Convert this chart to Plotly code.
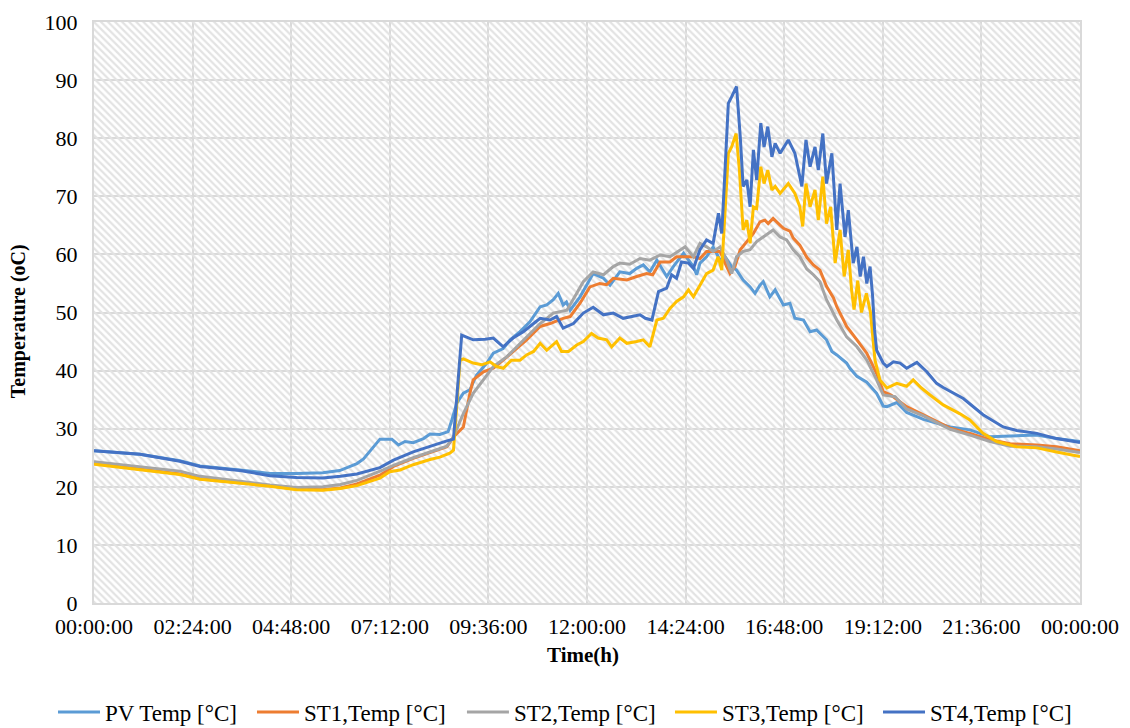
import plotly.graph_objects as go

# ---------------- data (hours since midnight, °C) ----------------
pv_t = [0, 1.12, 2.09, 2.58, 3.55, 4.28, 4.93, 5.57, 5.98, 6.4, 6.56, 6.8, 6.96, 7.25, 7.41, 7.57, 7.77,
        8.02, 8.18, 8.42, 8.62, 8.71, 8.83, 8.99, 9.15, 9.31, 9.56, 9.72, 9.96, 10.13, 10.37, 10.61,
        10.86, 11.02, 11.18, 11.3, 11.42, 11.5, 11.59, 11.83, 12.07, 12.15, 12.4, 12.56, 12.8, 13.04,
        13.21, 13.37, 13.53, 13.7, 13.94, 14.1, 14.35, 14.59, 14.67, 14.75, 14.91, 15.07, 15.24, 15.36,
        15.52, 15.64, 15.8, 15.97, 16.09, 16.21, 16.29, 16.45, 16.58, 16.78, 16.94, 17.06, 17.27, 17.43,
        17.59, 17.83, 17.96, 18.08, 18.32, 18.4, 18.57, 18.81, 19.05, 19.21, 19.3, 19.54, 19.78, 20.03,
        20.19, 20.84, 21.32, 21.81, 22.3, 22.95, 23.43, 24]
pv_v = [26.2, 25.6, 24.5, 23.6, 22.9, 22.3, 22.3, 22.4, 22.8, 24.0, 24.8, 26.9, 28.2, 28.2, 27.2, 27.8, 27.6,
        28.3, 29.1, 29.0, 29.5, 31.5, 34.4, 36.1, 36.7, 39.2, 41.3, 43.0, 43.8, 45.3, 46.7, 48.4,
        51.0, 51.3, 52.2, 53.3, 51.3, 51.8, 50.4, 52.7, 55.9, 56.7, 55.9, 54.7, 57.0, 56.7,
        57.6, 58.2, 57.0, 59.0, 56.2, 57.9, 60.2, 57.9, 56.5, 58.5, 59.6, 61.3, 59.0, 59.6,
        57.9, 57.3, 55.6, 54.4, 53.3, 54.7, 55.3, 52.7, 53.9, 51.3, 51.6, 49.0, 48.7, 46.7,
        47.0, 45.3, 43.3, 42.7, 41.3, 40.4, 39.0, 38.0, 36.1, 33.9, 33.8, 34.5, 32.8, 32.1,
        31.6, 30.3, 29.8, 28.6, 28.7, 28.9, 28.3, 27.8]

st1_t = [0, 1.12, 2.09, 2.58, 3.55, 4.28, 4.93, 5.57, 6.0, 6.4, 6.96, 7.29, 7.77, 8.18, 8.59, 8.75, 8.99,
         9.15, 9.23, 9.48, 9.72, 9.96, 10.29, 10.53, 10.86, 11.1, 11.42, 11.59, 11.83, 12.07, 12.31,
         12.48, 12.64, 12.97, 13.21, 13.45, 13.6, 13.78, 14.02, 14.18, 14.59, 14.75, 14.91, 15.07,
         15.24, 15.4, 15.48, 15.6, 15.73, 15.89, 16.05, 16.21, 16.33, 16.41, 16.53, 16.66, 16.78,
         16.94, 17.02, 17.18, 17.35, 17.51, 17.67, 17.83, 18.0, 18.08, 18.32, 18.57, 18.81, 19.05,
         19.21, 19.4, 19.78, 20.19, 20.84, 21.32, 21.81, 22.3, 22.95, 23.43, 24]
st1_v = [24.0, 23.1, 22.2, 21.4, 20.7, 20.2, 19.6, 19.5, 19.8, 20.5, 22.0, 23.5, 24.9, 25.9, 26.9, 28.6, 30.3,
         36.1, 38.4, 39.8, 40.4, 41.8, 43.8, 45.3, 47.6, 48.1, 49.0, 49.3, 51.6, 54.4, 55.0,
         54.8, 55.9, 55.6, 56.2, 56.7, 56.5, 58.7, 58.7, 59.6, 59.6, 59.3, 60.5, 60.5,
         60.5, 57.9, 56.7, 57.9, 60.8, 62.2, 63.6, 65.6, 65.9, 65.3, 66.2, 65.3, 64.5,
         64.0, 62.8, 61.6, 59.5, 58.2, 57.3, 54.5, 52.5, 51.0, 47.6, 45.3, 43.0, 39.5,
         36.4, 35.8, 33.8, 32.4, 30.1, 29.2, 28.1, 27.4, 27.2, 26.9, 26.2]

st2_t = [0, 1.12, 2.09, 2.58, 3.55, 4.28, 4.93, 5.57, 6.0, 6.4, 7.04, 7.29, 7.77, 8.18, 8.59, 8.75, 8.99,
         9.23, 9.48, 9.72, 10.05, 10.45, 10.86, 11.18, 11.51, 11.75, 11.91, 12.15, 12.4, 12.64, 12.8,
         13.04, 13.29, 13.53, 13.78, 14.02, 14.26, 14.39, 14.59, 14.75, 14.91, 15.07, 15.24, 15.4,
         15.52, 15.64, 15.8, 15.97, 16.13, 16.29, 16.41, 16.53, 16.7, 16.86, 17.02, 17.18, 17.35,
         17.51, 17.67, 17.83, 18.08, 18.32, 18.57, 18.81, 19.05, 19.21, 19.5, 19.78, 20.19, 20.84,
         21.32, 21.81, 22.3, 22.95, 23.43, 24]
st2_v = [24.3, 23.5, 22.7, 21.8, 20.9, 20.3, 19.9, 20.0, 20.4, 21.1, 22.9, 23.7, 25.0, 26.0, 27.0, 28.6, 32.6,
         36.1, 38.4, 40.7, 42.4, 45.3, 48.1, 49.9, 50.4, 53.3, 55.3, 57.0, 56.5, 57.9, 58.5,
         58.3, 59.3, 59.0, 59.9, 59.6, 60.8, 61.3, 59.6, 61.9, 61.3, 60.5, 61.3, 59.0,
         56.7, 59.6, 60.5, 60.8, 62.2, 63.0, 63.6, 64.2, 63.0, 62.5, 60.8, 59.6, 57.5,
         56.5, 55.3, 52.2, 48.7, 45.8, 44.1, 41.8, 38.4, 35.8, 35.5, 33.4, 32.2, 29.9,
         28.9, 27.8, 27.0, 26.9, 26.5, 25.9]

st3_t = [0, 1.12, 2.09, 2.58, 3.55, 4.28, 4.93, 5.57, 6.0, 6.4, 6.96, 7.2, 7.45, 7.77, 8.18, 8.42, 8.66,
         8.75, 8.91, 8.99, 9.23, 9.44, 9.64, 9.8, 9.96, 10.16, 10.37, 10.53, 10.7, 10.86, 11.02, 11.26,
         11.38, 11.55, 11.75, 11.91, 12.11, 12.27, 12.48, 12.6, 12.8, 12.97, 13.21, 13.37, 13.53,
         13.7, 13.86, 14.02, 14.18, 14.35, 14.47, 14.59, 14.75, 14.91, 15.07, 15.19, 15.28, 15.36,
         15.44, 15.52, 15.63, 15.71, 15.8, 15.89, 15.97, 16.05, 16.13, 16.23, 16.31, 16.4, 16.5,
         16.58, 16.7, 16.9, 17.06, 17.18, 17.25, 17.33, 17.43, 17.55, 17.63, 17.74, 17.83, 17.93,
         18.04, 18.16, 18.26, 18.36, 18.44, 18.5, 18.59, 18.68, 18.8, 18.9, 19.01, 19.13, 19.3,
         19.54, 19.78, 19.94, 20.14, 20.35, 20.67, 21.07, 21.32, 21.64, 21.97, 22.46, 22.95, 23.43, 24]
st3_v = [23.9, 23.0, 22.1, 21.3, 20.6, 20.1, 19.5, 19.4, 19.7, 20.2, 21.5, 22.6, 22.9, 23.8, 24.7, 25.1, 25.8,
         26.3, 41.8, 42.0, 41.3, 41.0, 41.5, 40.7, 40.4, 41.8, 41.8, 42.7, 43.3, 44.7, 43.5, 45.0,
         43.3, 43.3, 44.4, 45.0, 46.4, 45.6, 45.3, 44.1, 45.6, 44.7, 45.0, 45.3, 44.1,
         48.7, 49.0, 50.7, 51.9, 52.7, 53.9, 52.7, 54.7, 56.7, 57.3, 59.6, 57.3, 66.5,
         77.4, 78.5, 80.8, 74.5, 64.2, 65.9, 61.9, 68.2, 67.9, 75.1, 72.2, 74.5, 71.1,
         71.7, 70.5, 72.2, 70.5, 68.2, 64.8, 72.2, 68.2, 71.1, 65.9, 73.4, 65.3, 68.2,
         58.5, 64.2, 56.2, 60.8, 53.9, 50.5, 55.5, 50.0, 53.3, 50.0, 41.8, 38.4, 37.0,
         37.8, 37.3, 38.4, 37.0, 35.8, 34.1, 32.6, 31.5, 29.2, 27.8, 26.9, 26.7, 26.0, 25.2]

st4_t = [0, 1.12, 2.09, 2.58, 3.55, 4.28, 4.93, 5.57, 6.0, 6.4, 6.96, 7.29, 7.77, 8.18, 8.59, 8.75, 8.95,
         9.23, 9.52, 9.72, 9.96, 10.2, 10.45, 10.7, 10.86, 11.1, 11.26, 11.42, 11.67, 11.91, 12.15,
         12.4, 12.64, 12.88, 13.13, 13.29, 13.42, 13.58, 13.74, 13.94, 14.06, 14.18, 14.3, 14.47,
         14.59, 14.75, 14.91, 15.07, 15.2, 15.28, 15.36, 15.44, 15.52, 15.64, 15.73, 15.8, 15.89,
         15.97, 16.05, 16.13, 16.23, 16.31, 16.4, 16.5, 16.58, 16.7, 16.9, 17.06, 17.23, 17.33,
         17.43, 17.55, 17.63, 17.74, 17.83, 17.96, 18.08, 18.16, 18.28, 18.36, 18.48, 18.57, 18.65,
         18.73, 18.81, 18.89, 18.95, 19.0, 19.05, 19.21, 19.3, 19.46, 19.62, 19.78, 20.03, 20.27,
         20.51, 20.67, 21.16, 21.64, 22.13, 22.46, 22.95, 23.43, 24]
st4_v = [26.2, 25.6, 24.4, 23.5, 22.8, 21.9, 21.6, 21.5, 21.8, 22.2, 23.3, 24.6, 26.0, 27.0, 27.9, 28.2, 46.1,
         45.3, 45.4, 45.6, 44.1, 45.6, 46.7, 48.1, 49.0, 48.7, 49.3, 47.3, 48.1, 49.9, 50.9,
         49.6, 49.9, 49.0, 49.3, 49.6, 49.0, 48.7, 53.6, 54.2, 56.5, 55.9, 58.7, 58.5,
         57.6, 60.8, 62.5, 61.9, 67.1, 63.6, 74.5, 86.0, 87.1, 88.9, 80.3, 71.7, 72.8,
         68.2, 78.0, 72.8, 82.6, 78.5, 82.0, 76.8, 79.1, 77.4, 79.7, 77.4, 71.7, 79.7,
         75.1, 78.5, 74.5, 80.8, 72.2, 77.4, 64.2, 72.2, 63.0, 67.6, 58.5, 61.3, 56.2,
         59.6, 55.0, 57.9, 53.0, 47.0, 43.5, 41.3, 40.7, 41.5, 41.3, 40.4, 41.4, 39.8,
         37.8, 37.1, 35.2, 32.4, 30.3, 29.7, 29.2, 28.3, 27.6]

series_names = ["PV Temp [°C]", "ST1,Temp [°C]", "ST2,Temp [°C]", "ST3,Temp [°C]", "ST4,Temp [°C]"]
series_t = [pv_t, st1_t, st2_t, st3_t, st4_t]
series_v = [pv_v, st1_v, st2_v, st3_v, st4_v]
series_colors = ["#5B9BD5", "#ED7D31", "#A5A5A5", "#FFC000", "#4472C4"]

x_tickvals = [0, 2.4, 4.8, 7.2, 9.6, 12.0, 14.4, 16.8, 19.2, 21.6, 24.0]
x_ticktext = ["00:00:00", "02:24:00", "04:48:00", "07:12:00", "09:36:00", "12:00:00",
              "14:24:00", "16:48:00", "19:12:00", "21:36:00", "00:00:00"]
y_tickvals = [0, 10, 20, 30, 40, 50, 60, 70, 80, 90, 100]

X_RANGE = [0, 24]
Y_RANGE = [0, 100]

FONT = "Liberation Serif, Times New Roman, serif"
GRID = "#d9d9d9"

# one legend box per series so the entries sit where the reference puts them
legend_ids = ["legend", "legend2", "legend3", "legend4", "legend5"]
legend_x = [0.0469, 0.2230, 0.4088, 0.5929, 0.7770]

fig = go.Figure()

# hatched plot-area background (decoration spanning the axis ranges)
fig.add_trace(go.Bar(
    x=[(X_RANGE[0] + X_RANGE[1]) / 2], y=[Y_RANGE[1]], width=[X_RANGE[1] - X_RANGE[0]],
    marker=dict(color="rgba(0,0,0,0)", line=dict(width=0),
                pattern=dict(shape="\\", fgcolor="#e3e3e3", bgcolor="rgba(0,0,0,0)",
                             size=5, solidity=0.45, fillmode="replace")),
    showlegend=False, hoverinfo="skip"))

for name, t, v, c, lg in zip(series_names, series_t, series_v, series_colors, legend_ids):
    fig.add_trace(go.Scatter(x=t, y=v, mode="lines", name=name, legend=lg,
                             line=dict(color=c, width=3)))

legend_layout = {}
for lg, lx in zip(legend_ids, legend_x):
    legend_layout[lg] = dict(orientation="h", xref="container", x=lx, xanchor="left",
                             y=-0.1876, yanchor="middle", bgcolor="rgba(0,0,0,0)",
                             font=dict(family=FONT, size=23), itemwidth=42)

fig.update_layout(
    width=1130, height=728,
    margin=dict(l=94, r=50, t=22, b=125, autoexpand=False),
    paper_bgcolor="white", plot_bgcolor="white",
    font=dict(family=FONT, size=22, color="black"),
    bargap=0,
    showlegend=True,
    **legend_layout,
)

fig.update_xaxes(
    range=X_RANGE, tickvals=x_tickvals, ticktext=x_ticktext,
    showgrid=True, gridcolor=GRID, gridwidth=2,
    showline=True, linecolor=GRID, linewidth=2, mirror=True,
    ticks="outside", ticklen=3, tickcolor="rgba(0,0,0,0)",
    zeroline=False, tickfont=dict(family=FONT, size=22), automargin=False,
)
fig.update_yaxes(
    range=Y_RANGE, tickvals=y_tickvals,
    showgrid=True, gridcolor=GRID, gridwidth=2,
    showline=True, linecolor=GRID, linewidth=2, mirror=True,
    ticks="outside", ticklen=10, tickcolor="rgba(0,0,0,0)",
    zeroline=False, tickfont=dict(family=FONT, size=22), automargin=False,
)

# axis titles
fig.add_annotation(text="<b>Time(h)</b>", xref="paper", yref="paper", x=0.4959, y=-0.0895,
                   xanchor="center", yanchor="middle", showarrow=False,
                   font=dict(family=FONT, size=21, color="black"))
fig.add_annotation(text="<b>Temperature (oC)</b>", xref="paper", yref="paper", x=-0.0771, y=0.485,
                   xanchor="center", yanchor="middle", textangle=-90, showarrow=False,
                   font=dict(family=FONT, size=20, color="black"))

fig.write_html("out.html", config={"displayModeBar": False},
               post_script="document.body.style.margin='0';document.body.style.overflow='hidden';")
